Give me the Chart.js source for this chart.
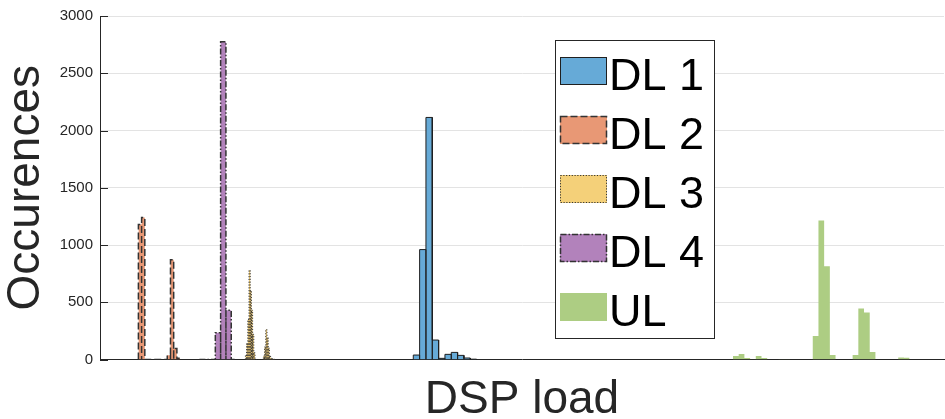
<!DOCTYPE html>
<html>
<head>
<meta charset="utf-8">
<script src="https://cdn.jsdelivr.net/npm/chart.js@4.4.0/dist/chart.umd.min.js"></script>
<style>
  html, body { margin: 0; padding: 0; background: #fff; overflow: hidden; }
  #wrap { width: 945px; height: 424px; }
</style>
</head>
<body>
<div id="wrap"><canvas id="dspChart"></canvas></div>
<script>
// series
const seriesNames = ['DL 1', 'DL 2', 'DL 3', 'DL 4', 'UL'];

// histogram bins: left edge of the first bin and bin width, in DSP load units (axis 0..100)
const binStarts = [37.12, 4.55, 17.23, 11.78, 75.0];
const binWidths = [0.75, 0.38, 0.142, 0.628, 0.675];

// occurences per bin
const dl1Counts = [39, 960, 2114, 170, 10, 45, 62, 36, 13, 3];
const dl2Counts = [1180, 1240, 0, 0, 0, 0, 0, 0, 0, 38, 872, 96, 10];
const dl3Counts = [40, 140, 350, 780, 600, 430, 220, 60, 0, 0, 0, 0, 0, 0, 0,
                   30, 110, 262, 190, 100, 30, 10, 6, 4, 3];
const dl4Counts = [0, 0, 0, 233, 2775, 430, 0];
const ulCounts = [30, 48, 14, 3, 30, 14, 0, 0, 3, 3, 0, 0, 0, 0, 205, 1215, 814, 39,
                  0, 0, 0, 39, 445, 410, 66, 0, 0, 0, 0, 18, 15];

const yTicks = [0, 500, 1000, 1500, 2000, 2500, 3000];

const fontFamily = "'Liberation Sans', Arial, Helvetica, sans-serif";
const axisColor = '#262626';

// outline of every bin: up, across, down
function histPoints(start, width, counts) {
    const pts = [];
    counts.forEach((c, i) => {
        const l = start + i * width;
        const r = l + width;
        pts.push({x: l, y: 0}, {x: l, y: c}, {x: r, y: c}, {x: r, y: 0});
    });
    return pts;
}

const allCounts = [dl1Counts, dl2Counts, dl3Counts, dl4Counts, ulCounts];
const fills = ['#66AAD7', '#E89875', '#F4D079', '#B282BB', '#ADCD83'];
const edges = ['#1f1f1f', '#333333', '#333333', '#333333', 'rgba(0,0,0,0)'];
const dashes = [[], [7, 3], [1.2, 1.6], [6, 2, 1.5, 2], []];
const edgeWidths = [1, 1.5, 1, 1.5, 1];

const datasets = seriesNames.map((name, i) => ({
    label: name,
    data: histPoints(binStarts[i], binWidths[i], allCounts[i]),
    backgroundColor: fills[i],
    borderColor: edges[i],
    borderWidth: edgeWidths[i],
    borderDash: dashes[i],
    borderJoinStyle: 'miter',
    fill: 'origin',
    tension: 0,
    pointRadius: 0,
    pointHoverRadius: 0
}));

// legend box inside the axes, MATLAB style
const boxLegend = {
    id: 'boxLegend',
    afterDatasetsDraw(chart) {
        const {ctx, chartArea: a} = chart;
        const x0 = Math.round(a.left + a.width * 0.539);
        const y0 = Math.round(a.top + 24);
        const w = 159, h = 298, rowH = 59;
        ctx.save();
        ctx.fillStyle = '#fff';
        ctx.fillRect(x0, y0, w, h);
        ctx.strokeStyle = axisColor;
        ctx.lineWidth = 1;
        ctx.strokeRect(x0 + 0.5, y0 + 0.5, w, h);
        chart.data.datasets.forEach((ds, i) => {
            const cy = y0 + 31 + i * rowH;
            ctx.fillStyle = ds.backgroundColor;
            ctx.fillRect(x0 + 5, cy - 14, 47, 28);
            ctx.strokeStyle = ds.borderColor;
            ctx.lineWidth = ds.borderWidth;
            ctx.setLineDash(ds.borderDash);
            ctx.strokeRect(x0 + 5.5, cy - 13.5, 46, 27);
            ctx.setLineDash([]);
            ctx.fillStyle = '#000';
            ctx.font = '45px ' + fontFamily;
            ctx.textBaseline = 'alphabetic';
            ctx.fillText(ds.label, x0 + 54, cy + 19);
        });
        ctx.restore();
    }
};

// ticks pointing into the axes
const innerTicks = {
    id: 'innerTicks',
    afterDraw(chart) {
        const {ctx} = chart;
        const y = chart.scales.y;
        const left = chart.chartArea.left;
        ctx.save();
        ctx.strokeStyle = axisColor;
        ctx.lineWidth = 1;
        yTicks.forEach(v => {
            const py = Math.round(y.getPixelForValue(v)) + 0.5;
            ctx.beginPath();
            ctx.moveTo(left, py);
            ctx.lineTo(left + 8, py);
            ctx.stroke();
        });
        ctx.restore();
    }
};

const ctx = document.getElementById('dspChart').getContext('2d');
const dspChart = new Chart(ctx, {
    type: 'line',
    data: { datasets: datasets },
    options: {
        responsive: true,
        maintainAspectRatio: false,
        animation: false,
        events: [],
        layout: { padding: { top: 15, right: 1, left: 0, bottom: 0 } },
        plugins: {
            legend: { display: false },
            tooltip: { enabled: false }
        },
        scales: {
            x: {
                type: 'linear',
                min: 0,
                max: 100,
                ticks: { display: false },
                grid: { display: false, drawTicks: false },
                border: { display: true, color: axisColor, width: 1 },
                title: {
                    display: true,
                    text: 'DSP load',
                    color: axisColor,
                    font: { family: fontFamily, size: 46, lineHeight: 1 },
                    padding: { top: 17.5, bottom: 1 }
                }
            },
            y: {
                min: 0,
                max: 3000,
                afterBuildTicks: scale => { scale.ticks = yTicks.map(v => ({value: v})); },
                afterFit: scale => { scale.width = 100; },
                ticks: {
                    color: axisColor,
                    padding: 7,
                    font: { family: fontFamily, size: 15 },
                    callback: v => String(v)
                },
                grid: { color: '#e3e3e3', drawTicks: false },
                border: { display: true, color: axisColor, width: 1 },
                title: {
                    display: true,
                    text: 'Occurences',
                    color: axisColor,
                    font: { family: fontFamily, size: 46, lineHeight: 1 },
                    padding: { top: 3, bottom: 13 }
                }
            }
        }
    },
    plugins: [boxLegend, innerTicks]
});
</script>
</body>
</html>
